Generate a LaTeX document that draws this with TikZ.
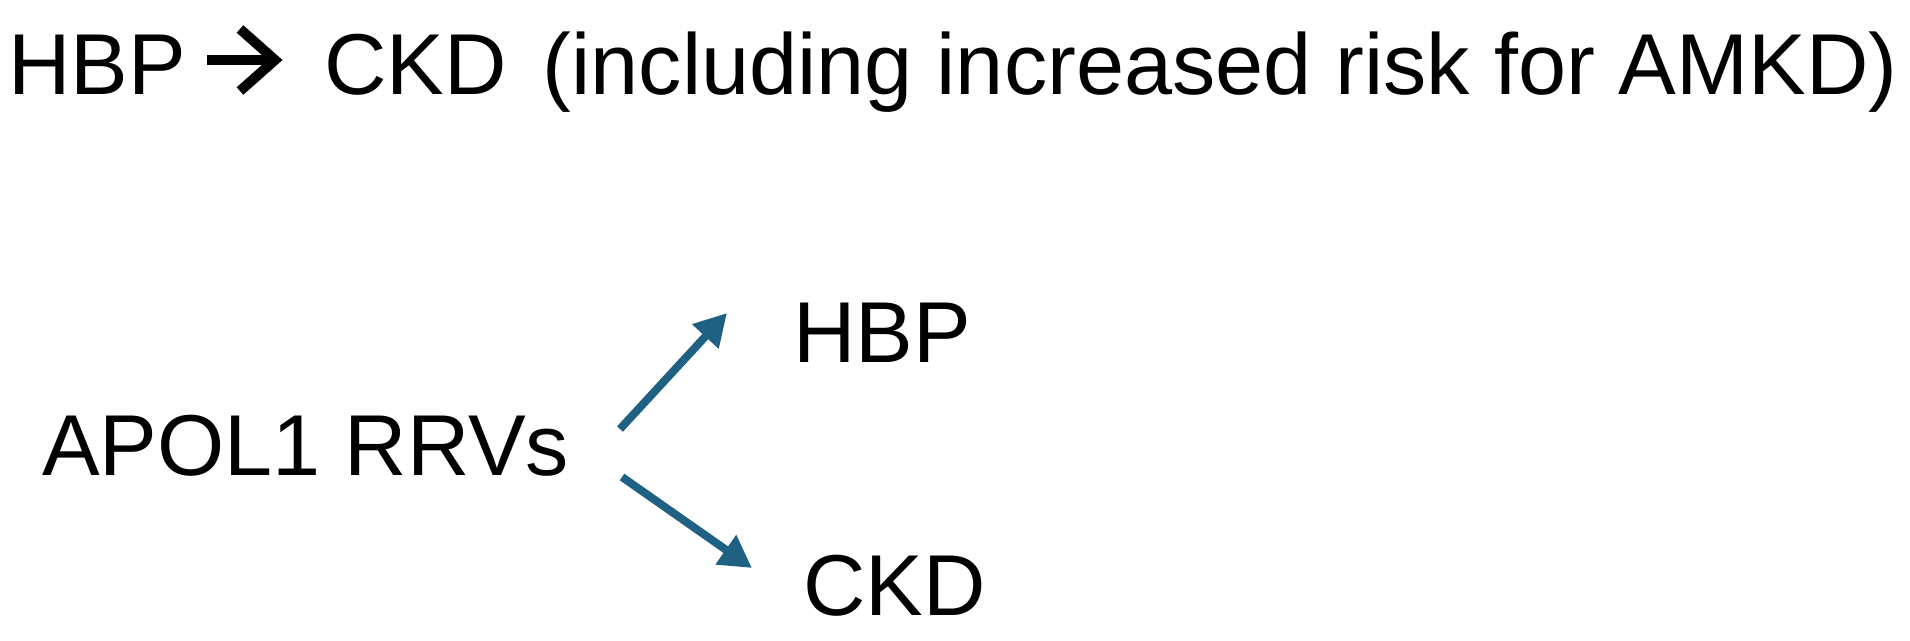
\documentclass[tikz,border=0pt]{standalone}
\usepackage{fontspec}
\setmainfont{Liberation Sans}
\usetikzlibrary{arrows.meta}
\definecolor{arrowblue}{RGB}{31,97,131}
\tikzset{
  lbl/.style={anchor=base west, inner sep=0pt, outer sep=0pt, font=\fontsize{24.6}{30}\selectfont, text=black},
  bluearrow/.style={draw=arrowblue, line width=0.8mm, -{Triangle[length=3.2mm,width=3.4mm]}},
  titlearrow/.style={draw=black, line width=1mm, miter limit=10}
}
\begin{document}
\begin{tikzpicture}[x=0.1mm, y=-0.1mm]
\useasboundingbox[fill=white] (0,0) rectangle (1910,640);
% title
\node[lbl] (thbp) at (8,94) {HBP};
\node[lbl] (tckd) at (324,94) {CKD\hspace{0.42em}(including increased risk for AMKD)};
\coordinate (tbar0) at (207,60);
\coordinate (tbar1) at (272,60);
\coordinate (tch0) at (240,29);
\coordinate (tch1) at (275,60);
\coordinate (tch2) at (240,91);
\draw[titlearrow] (tbar0) -- (tbar1);
\draw[titlearrow, line join=miter] (tch0) -- (tch1) -- (tch2);
% lower part
\node[lbl] (apol) at (42,475) {APOL1 RRVs};
\node[lbl] (hbp) at (793,362) {HBP};
\node[lbl] (ckd) at (803,615) {CKD};
\coordinate (up0) at (620,429);
\coordinate (up1) at (727,313);
\coordinate (dn0) at (622,477);
\coordinate (dn1) at (752,568);
\draw[bluearrow] (up0) -- (up1);
\draw[bluearrow] (dn0) -- (dn1);
\end{tikzpicture}
\end{document}
